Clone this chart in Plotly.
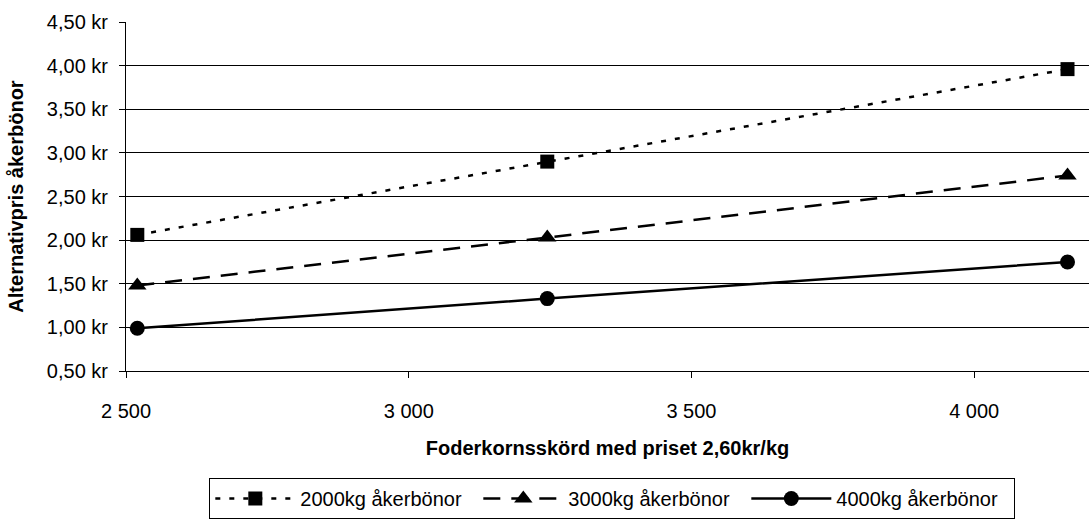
import plotly.graph_objects as go

# Harvest of feed barley (kg) at a price of 2.60 kr/kg
harvest = [2520, 3245, 4165]

# Alternative price for field beans (kr/kg) per bean yield
price_2000 = [2.06, 2.90, 3.96]
price_3000 = [1.48, 2.03, 2.74]
price_4000 = [0.99, 1.33, 1.75]

series_names = ["2000kg åkerbönor", "3000kg åkerbönor", "4000kg åkerbönor"]

FONT = "Liberation Sans, Arial, sans-serif"
SIZE = 20

fig = go.Figure()

fig.add_trace(go.Scatter(
    x=harvest, y=price_2000, name=series_names[0], mode="lines+markers",
    line=dict(color="black", width=2.5, dash="5px,9px"),
    marker=dict(symbol="square", size=14, color="black"),
))
fig.add_trace(go.Scatter(
    x=harvest, y=price_3000, name=series_names[1], mode="lines+markers",
    line=dict(color="black", width=2.5, dash="17px,11px"),
    marker=dict(symbol="triangle-up", size=16, color="black"),
))
fig.add_trace(go.Scatter(
    x=harvest, y=price_4000, name=series_names[2], mode="lines+markers",
    line=dict(color="black", width=2.5),
    marker=dict(symbol="circle", size=15, color="black"),
))

fig.update_layout(
    width=1089, height=519,
    margin=dict(l=126, r=0, t=22, b=139),
    paper_bgcolor="white", plot_bgcolor="white",
    font=dict(family=FONT, size=SIZE, color="black"),
    separators=", ",
    showlegend=True,
    legend=dict(
        orientation="h", x=0.505, xanchor="center", y=-0.3077, yanchor="top",
        bordercolor="black", borderwidth=1, bgcolor="white",
        font=dict(family=FONT, size=SIZE, color="black"),
        entrywidth=173, itemwidth=80,
    ),
    xaxis=dict(
        range=[2500, 4203], tickvals=[2500, 3000, 3500, 4000], tickformat=",d",
        showgrid=False, zeroline=False,
        showline=True, linecolor="black", linewidth=1,
        ticks="outside", ticklen=6, tickcolor="black", ticklabelstandoff=16,
        title=dict(text="<b>Foderkornsskörd med priset 2,60kr/kg</b>",
                   font=dict(family=FONT, size=SIZE), standoff=19),
    ),
    yaxis=dict(
        range=[0.5, 4.5], dtick=0.5, tick0=0.5, tickformat=".2f", ticksuffix=" kr",
        showgrid=True, gridcolor="black", gridwidth=1, zeroline=False,
        showline=True, linecolor="black", linewidth=1,
        ticks="outside", ticklen=6, tickcolor="black", ticklabelstandoff=7,
        title=dict(text="<b>Alternativpris åkerbönor</b>",
                   font=dict(family=FONT, size=SIZE), standoff=17),
    ),
)

fig.write_html("out.html")
